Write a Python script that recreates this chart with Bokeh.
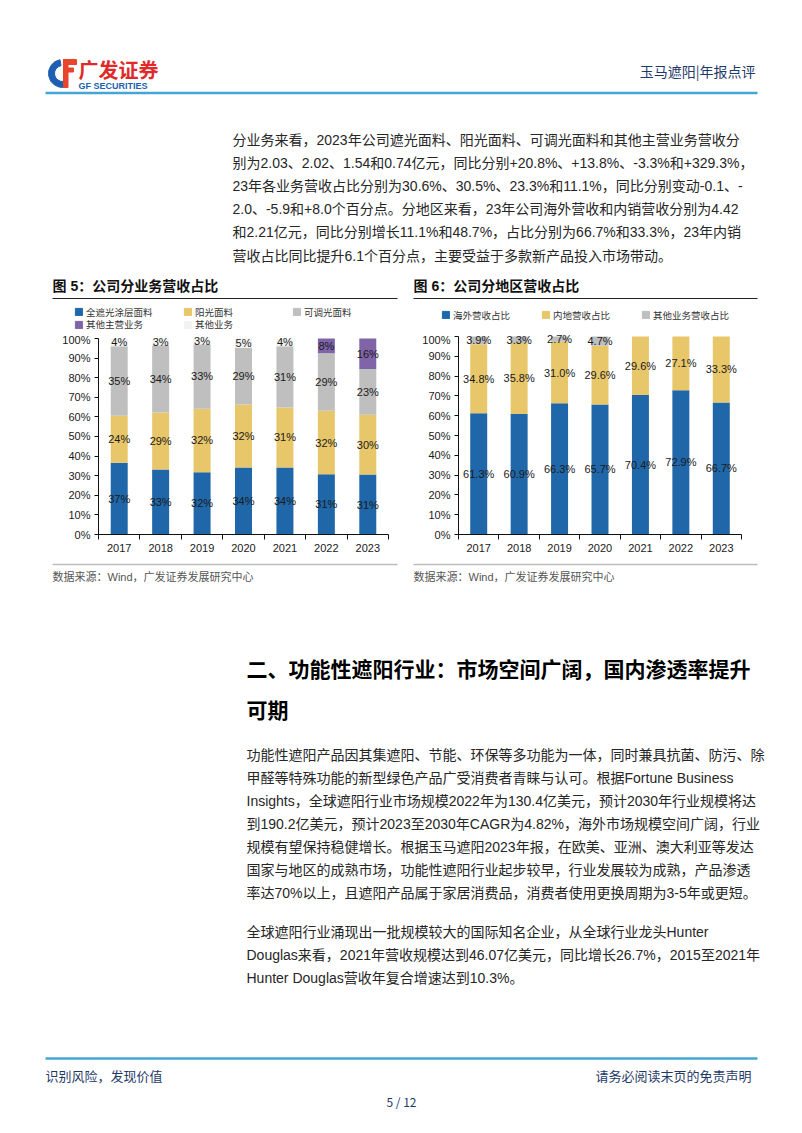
from bokeh.plotting import figure
from bokeh.models import Range1d, FixedTicker, PrintfTickFormatter, ColumnDataSource, Legend, LegendItem
from bokeh.layouts import column, row
from bokeh.core.properties import value
from bokeh.embed import file_html
from bokeh.resources import INLINE

# ---------------- data ----------------
years = ["2017", "2018", "2019", "2020", "2021", "2022", "2023"]

# Figure 5: revenue share by business (%)
seg5_names = ["全遮光涂层面料", "阳光面料", "可调光面料", "其他主营业务", "其他业务"]
full_blackout = [36.6, 33.2, 31.8, 34.2, 34.2, 30.7, 30.6]
sunscreen = [24.0, 29.1, 32.4, 32.1, 30.6, 32.4, 30.5]
dimmable = [35.4, 34.3, 32.9, 28.9, 31.2, 29.4, 23.3]
other_main = [0, 0, 0, 0, 0, 7.5, 15.6]
other_biz = [4.0, 3.4, 2.9, 4.8, 4.0, 0, 0]
seg5_colors = ["#1f67a8", "#e8c66a", "#bfbfbf", "#7f64a8", "#f2f2f2"]

# Figure 6: revenue share by region (%)
seg6_names = ["海外营收占比", "内地营收占比", "其他业务营收占比"]
overseas = [61.3, 60.9, 66.3, 65.7, 70.4, 72.9, 66.7]
domestic = [34.8, 35.8, 31.0, 29.6, 29.6, 27.1, 33.3]
other_rev = [3.9, 3.3, 2.7, 4.7, 0, 0, 0]
seg6_colors = ["#1f67a8", "#e8c66a", "#bfbfbf"]

y_ticks = list(range(0, 101, 10))

header_right = "玉马遮阳|年报点评"
para1 = [
    "分业务来看，2023年公司遮光面料、阳光面料、可调光面料和其他主营业务营收分",
    "别为2.03、2.02、1.54和0.74亿元，同比分别+20.8%、+13.8%、-3.3%和+329.3%，",
    "23年各业务营收占比分别为30.6%、30.5%、23.3%和11.1%，同比分别变动-0.1、-",
    "2.0、-5.9和+8.0个百分点。分地区来看，23年公司海外营收和内销营收分别为4.42",
    "和2.21亿元，同比分别增长11.1%和48.7%，占比分别为66.7%和33.3%，23年内销",
    "营收占比同比提升6.1个百分点，主要受益于多款新产品投入市场带动。",
]
title5 = "图 5：公司分业务营收占比"
title6 = "图 6：公司分地区营收占比"
source_note = "数据来源：Wind，广发证券发展研究中心"
heading = ["二、功能性遮阳行业：市场空间广阔，国内渗透率提升", "可期"]
para2 = [
    "功能性遮阳产品因其集遮阳、节能、环保等多功能为一体，同时兼具抗菌、防污、除",
    "甲醛等特殊功能的新型绿色产品广受消费者青睐与认可。根据Fortune Business",
    "Insights，全球遮阳行业市场规模2022年为130.4亿美元，预计2030年行业规模将达",
    "到190.2亿美元，预计2023至2030年CAGR为4.82%，海外市场规模空间广阔，行业",
    "规模有望保持稳健增长。根据玉马遮阳2023年报，在欧美、亚洲、澳大利亚等发达",
    "国家与地区的成熟市场，功能性遮阳行业起步较早，行业发展较为成熟，产品渗透",
    "率达70%以上，且遮阳产品属于家居消费品，消费者使用更换周期为3-5年或更短。",
]
para3 = [
    "全球遮阳行业涌现出一批规模较大的国际知名企业，从全球行业龙头Hunter",
    "Douglas来看，2021年营收规模达到46.07亿美元，同比增长26.7%，2015至2021年",
    "Hunter Douglas营收年复合增速达到10.3%。",
]
footer_left = "识别风险，发现价值"
footer_right = "请务必阅读末页的免责声明"
page_no = "5 / 12"

# ---------------- styles ----------------
FONT = "Liberation Sans, Noto Sans CJK SC"
CJK = "Noto Sans CJK SC"
NAVY = "#1f3a68"
LINE_BLUE = "#45a6d6"
BODY = "#262626"
PAGE_W = 786


def page_fig(top, bottom):
    p = figure(width=PAGE_W, height=bottom - top, x_range=Range1d(0, PAGE_W),
               y_range=Range1d(bottom, top), output_backend="svg",
               toolbar_location=None, x_axis_type=None, y_axis_type=None,
               min_border=0)
    p.outline_line_color = None
    p.background_fill_color = "white"
    return p


def txt(p, x, y, s, size, color=BODY, bold=False, align="left", font=FONT):
    p.text(x=[x], y=[y], text=[s], text_font=value(font), text_font_size=size,
           text_color=color, text_align=align, text_baseline="middle",
           text_font_style="bold" if bold else "normal")


# ---------------- top page part ----------------
TOP_END = 333
top = page_fig(0, TOP_END)
# logo
top.annular_wedge(x=[62], y=[73], inner_radius=8, outer_radius=14,
                  start_angle=1.75, end_angle=4.9, color="#1d5fb0")
top.quad(left=[63], right=[76], top=[59], bottom=[64], color="#e8452c")
top.quad(left=[63], right=[73], top=[67.5], bottom=[71.5], color="#e8452c")
top.quad(left=[63], right=[67.5], top=[59], bottom=[87], color="#e8452c")
txt(top, 78, 69, "广发证券", "20px", color="#e02a2a", bold=True, font=CJK)
txt(top, 78, 85, "GF SECURITIES", "9px", color="#1d5fb0", bold=True, font="Liberation Sans")
txt(top, 755, 70, header_right, "14px", color=NAVY, align="right", font=CJK)
top.segment(x0=[45], x1=[757], y0=[92.5], y1=[92.5], line_color=LINE_BLUE, line_width=2.5)

for i, s in enumerate(para1):
    txt(top, 232, 139 + 23.2 * i, s, "14px")

txt(top, 52, 285, title5, "14px", color="#111", bold=True)
txt(top, 413, 285, title6, "14px", color="#111", bold=True)
top.segment(x0=[52, 413], x1=[397, 757], y0=[298, 298], y1=[298, 298],
            line_color="#222", line_width=1)


def add_legend(p, names, colors, loc, label_width, spacing):
    items = []
    for n, c in zip(names, colors):
        # zero-size proxy glyph that only supplies the legend swatch colour
        r = p.vbar(x=[0], top=[0], bottom=[0], width=0, color=c)
        items.append(LegendItem(label=n, renderers=[r]))
    lg = Legend(items=items, orientation="horizontal", location=loc,
                glyph_width=9, glyph_height=9, label_standoff=3,
                label_width=label_width, label_height=10, spacing=spacing,
                padding=0, margin=0, border_line_color=None,
                background_fill_alpha=0, label_text_font=FONT,
                label_text_font_size="9.5px", label_text_color="#333")
    p.add_layout(lg)


# legend boxes: (left x, bottom offset from top-figure bottom)
add_legend(top, seg5_names[:3], seg5_colors[:3], (74, TOP_END - 318.5), 87, 10)
add_legend(top, seg5_names[3:], seg5_colors[3:], (74, TOP_END - 331), 87, 10)
add_legend(top, seg6_names, seg6_colors, (441, TOP_END - 321.5), 78, 10)


# ---------------- charts ----------------
def chart(width, left, right, bottom_border, height, px_per_unit,
          series, colors, fmt, bar_w):
    frame_h = height - bottom_border
    p = figure(width=width, height=height, x_range=Range1d(0, len(years)),
               y_range=Range1d(0, frame_h / px_per_unit), output_backend="svg",
               toolbar_location=None, min_border_left=left, min_border_right=right,
               min_border_top=0, min_border_bottom=bottom_border)
    p.outline_line_color = None
    p.xgrid.visible = False
    p.ygrid.visible = False
    data = {"x": [i + 0.5 for i in range(len(years))]}
    keys = []
    for k, vals in enumerate(series):
        key = f"s{k}"
        keys.append(key)
        data[key] = vals
    src = ColumnDataSource(data)
    p.vbar_stack(keys, x="x", width=bar_w, color=colors, source=src, line_color=None)
    # value labels at segment centres
    lx, ly, lt = [], [], []
    for i in range(len(years)):
        base = 0
        for vals in series:
            v = vals[i]
            if v > 0:
                lx.append(i + 0.5)
                ly.append(base + v / 2)
                lt.append(fmt.format(v))
            base += v
    p.text(x=lx, y=ly, text=lt, text_font=value("Liberation Sans"),
           text_font_size="11px", text_color="#1a1a1a", text_align="center",
           text_baseline="middle")
    # axes
    p.yaxis.ticker = FixedTicker(ticks=y_ticks)
    p.yaxis.bounds = (0, 100)
    p.yaxis.formatter = PrintfTickFormatter(format="%d%%")
    p.yaxis.major_tick_in = 0
    p.yaxis.major_tick_out = 4
    p.yaxis.minor_tick_out = 0
    p.yaxis.major_label_standoff = 4
    p.xaxis.ticker = FixedTicker(ticks=[i + 0.5 for i in range(len(years))],
                                 minor_ticks=list(range(len(years) + 1)))
    p.xaxis.major_label_overrides = {i + 0.5: y for i, y in enumerate(years)}
    p.xaxis.major_tick_in = 0
    p.xaxis.major_tick_out = 0
    p.xaxis.minor_tick_in = 0
    p.xaxis.minor_tick_out = 5
    p.xaxis.major_label_standoff = 4
    for ax in (p.xaxis[0], p.yaxis[0]):
        ax.axis_line_color = "#111"
        ax.major_tick_line_color = "#111"
        ax.minor_tick_line_color = "#111"
        ax.major_label_text_font = "Liberation Sans"
        ax.major_label_text_font_size = "11px"
        ax.major_label_text_color = "#1a1a1a"
    return p


CH_BOT = 561
# chart 5: axis x=98, plot right 388, 0% at y=535
c5 = chart(397, 98, 397 - 388, CH_BOT - 535, CH_BOT - TOP_END, 1.97,
           [full_blackout, sunscreen, dimmable, other_main, other_biz],
           seg5_colors, "{:.0f}%", 0.41)
# chart 6: axis x=458, plot right 741, 0% at y=534
c6 = chart(PAGE_W - 397, 458 - 397, PAGE_W - 741, CH_BOT - 534, CH_BOT - TOP_END, 1.98,
           [overseas, domestic, other_rev], seg6_colors, "{:.1f}%", 0.42)

# ---------------- bottom page part ----------------
bot = page_fig(CH_BOT, 1117)
bot.segment(x0=[52, 413], x1=[397, 757], y0=[564, 564], y1=[564, 564],
            line_color="#bdbdbd", line_width=1.5)
txt(bot, 52, 576, source_note, "11px", color="#555")
txt(bot, 413, 576, source_note, "11px", color="#555")
txt(bot, 246, 669, heading[0], "21px", color="#000", bold=True)
txt(bot, 246, 710, heading[1], "21px", color="#000", bold=True)
for i, s in enumerate(para2):
    txt(bot, 246, 754 + 23 * i, s, "14px")
for i, s in enumerate(para3):
    txt(bot, 246, 931 + 23 * i, s, "14px")
bot.segment(x0=[45], x1=[757], y0=[1058], y1=[1058], line_color=LINE_BLUE, line_width=2.5)
txt(bot, 45, 1075, footer_left, "13px", color=NAVY, font=CJK)
txt(bot, 751, 1075, footer_right, "13px", color=NAVY, align="right", font=CJK)
txt(bot, 401, 1101, page_no, "12px", color=NAVY, align="center", font=CJK)

layout = column(top, row(c5, c6), bot)
open("out.html", "w").write(file_html(layout, INLINE))
